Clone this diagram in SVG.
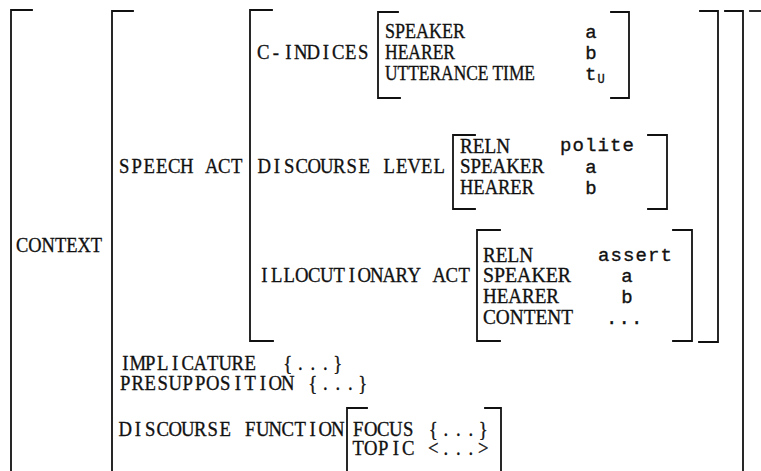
<svg xmlns="http://www.w3.org/2000/svg" width="761" height="471" viewBox="0 0 761 471">
  <style>
    .br { fill: none; stroke: #111; stroke-width: 1.8; stroke-linecap: square; }
    text { fill: #111; stroke: #111; stroke-width: 0.35; }
    /* fixed-pitch labels: one glyph per 12.5px cell, drawn condensed */
    .m { font-family: "Liberation Serif", serif; font-size: 22px; text-anchor: middle; }
    /* proportional feature names */
    .p { font-family: "Liberation Serif", serif; font-size: 22px; }
    /* atomic values */
    .v { font-family: "Liberation Mono", monospace; font-size: 19px; letter-spacing: 1.1px; }
    .vc { font-family: "Liberation Mono", monospace; font-size: 19px; text-anchor: middle; }
    .sub { font-family: "Liberation Mono", monospace; font-size: 12px; letter-spacing: 0; }
  </style>
  <rect width="761" height="471" fill="#fff"/>

  <!-- outermost matrix and the value of CONTEXT -->
  <g id="context">
    <path class="br" d="M32 10 H11 V471"/>
    <path class="br" d="M750 11 H761"/>
    <text class="p" x="16" y="252" textLength="86" lengthAdjust="spacingAndGlyphs">CONTEXT</text>
    <path class="br" d="M133 11 H112 V471"/>
    <path class="br" d="M725 11 H743 V471"/>
  </g>

  <g id="speech-act">
    <text class="m" transform="translate(118 173) scale(0.85 1)" x="7.353 22.059 36.765 51.471 66.176 80.882 95.588 110.294 125 139.706">SPEECH ACT</text>
    <path class="br" d="M272 10 H250 V341 H273"/>
    <path class="br" d="M700 11 H718 V342 H699"/>
  </g>

  <g id="c-indices">
    <text class="m" transform="translate(257 59) scale(0.85 1)" x="7.353 22.059 36.765 51.471 66.176 80.882 95.588 110.294 125">C-INDICES</text>
    <path class="br" d="M398 12 H378 V98 H400"/>
    <path class="br" d="M611 12 H629 V98 H611"/>
    <text class="p" x="385" y="38" textLength="80" lengthAdjust="spacingAndGlyphs">SPEAKER</text>
    <text class="p" x="385" y="59" textLength="70" lengthAdjust="spacingAndGlyphs">HEARER</text>
    <text class="p" x="385" y="80" textLength="150" lengthAdjust="spacingAndGlyphs">UTTERANCE TIME</text>
    <text class="vc" x="591" y="38">a</text>
    <text class="vc" x="591" y="59">b</text>
    <text class="v" x="585" y="80">t<tspan class="sub" dy="3">U</tspan></text>
  </g>

  <g id="discourse-level">
    <text class="m" transform="translate(258 173) scale(0.85 1)" x="7.353 22.059 36.765 51.471 66.176 80.882 95.588 110.294 125 139.706 154.412 169.118 183.824 198.529 213.235">DISCOURSE LEVEL</text>
    <path class="br" d="M475 135 H453 V209 H475"/>
    <path class="br" d="M648 135 H667 V209 H648"/>
    <text class="p" x="460" y="153" textLength="50" lengthAdjust="spacingAndGlyphs">RELN</text>
    <text class="p" x="460" y="173" textLength="84" lengthAdjust="spacingAndGlyphs">SPEAKER</text>
    <text class="p" x="460" y="194" textLength="74" lengthAdjust="spacingAndGlyphs">HEARER</text>
    <text class="v" x="560" y="151">polite</text>
    <text class="vc" x="591" y="173">a</text>
    <text class="vc" x="591" y="194">b</text>
  </g>

  <g id="illocutionary-act">
    <text class="m" transform="translate(258 282) scale(0.85 1)" x="7.353 22.059 36.765 51.471 66.176 80.882 95.588 110.294 125 139.706 154.412 169.118 183.824 198.529 213.235 227.941 242.647">ILLOCUTIONARY ACT</text>
    <path class="br" d="M500 230 H477 V341 H500"/>
    <path class="br" d="M673 230 H692 V341 H673"/>
    <text class="p" x="483" y="262" textLength="50" lengthAdjust="spacingAndGlyphs">RELN</text>
    <text class="p" x="483" y="282" textLength="88" lengthAdjust="spacingAndGlyphs">SPEAKER</text>
    <text class="p" x="483" y="303" textLength="76" lengthAdjust="spacingAndGlyphs">HEARER</text>
    <text class="p" x="483" y="324" textLength="90" lengthAdjust="spacingAndGlyphs">CONTENT</text>
    <text class="v" x="598" y="261">assert</text>
    <text class="vc" x="627" y="282">a</text>
    <text class="vc" x="627" y="303">b</text>
    <text class="v" x="606" y="324">...</text>
  </g>

  <g id="implicature">
    <text class="m" transform="translate(119 370) scale(0.85 1)" x="7.353 22.059 36.765 51.471 66.176 80.882 95.588 110.294 125 139.706 154.412 169.118 198.529 213.235 227.941 242.647 257.353">IMPLICATURE {...}</text>
  </g>

  <g id="presupposition">
    <text class="m" transform="translate(119 390) scale(0.85 1)" x="7.353 22.059 36.765 51.471 66.176 80.882 95.588 110.294 125 139.706 154.412 169.118 183.824 198.529 213.235 227.941 242.647 257.353 272.059 286.765">PRESUPPOSITION {...}</text>
  </g>

  <g id="discourse-function">
    <text class="m" transform="translate(119 436) scale(0.85 1)" x="7.353 22.059 36.765 51.471 66.176 80.882 95.588 110.294 125 139.706 154.412 169.118 183.824 198.529 213.235 227.941 242.647 257.353">DISCOURSE FUNCTION</text>
    <path class="br" d="M367 408 H347 V471"/>
    <path class="br" d="M485 408 H501 V471"/>
    <text class="m" transform="translate(352 436) scale(0.85 1)" x="7.353 22.059 36.765 51.471 66.176 80.882 95.588 110.294 125 139.706 154.412">FOCUS {...}</text>
    <text class="m" transform="translate(352 455) scale(0.85 1)" x="7.353 22.059 36.765 51.471 66.176 80.882 95.588 110.294 125 139.706 154.412">TOPIC &lt;...&gt;</text>
  </g>
</svg>
